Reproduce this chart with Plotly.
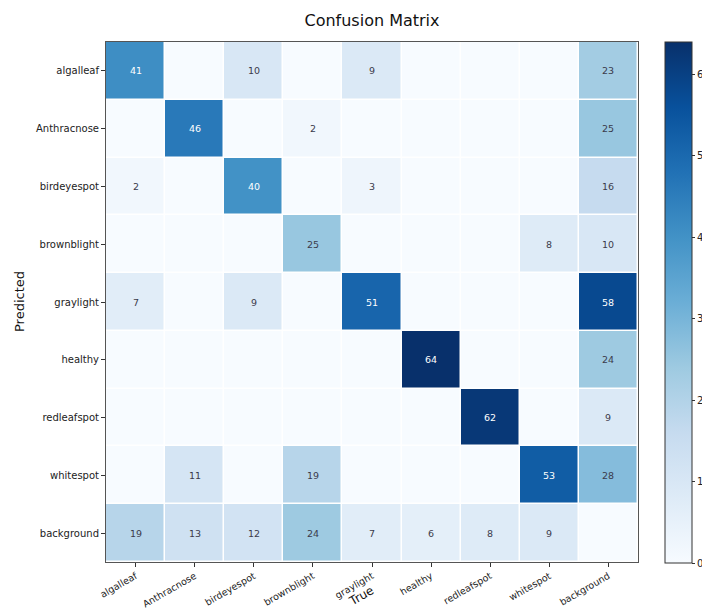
import plotly.graph_objects as go

classes = ["algalleaf", "Anthracnose", "birdeyespot", "brownblight", "graylight",
           "healthy", "redleafspot", "whitespot", "background"]

# rows = Predicted, columns = True
row_algalleaf = [41, 0, 10, 0, 9, 0, 0, 0, 23]
row_anthracnose = [0, 46, 0, 2, 0, 0, 0, 0, 25]
row_birdeyespot = [2, 0, 40, 0, 3, 0, 0, 0, 16]
row_brownblight = [0, 0, 0, 25, 0, 0, 0, 8, 10]
row_graylight = [7, 0, 9, 0, 51, 0, 0, 0, 58]
row_healthy = [0, 0, 0, 0, 0, 64, 0, 0, 24]
row_redleafspot = [0, 0, 0, 0, 0, 0, 62, 0, 9]
row_whitespot = [0, 11, 0, 19, 0, 0, 0, 53, 28]
row_background = [19, 13, 12, 24, 7, 6, 8, 9, 0]

z = [row_algalleaf, row_anthracnose, row_birdeyespot, row_brownblight, row_graylight,
     row_healthy, row_redleafspot, row_whitespot, row_background]

colorbar_ticks = [0, 10, 20, 30, 40, 50, 60]

blues = ['rgb(247,251,255)', 'rgb(222,235,247)', 'rgb(198,219,239)', 'rgb(158,202,225)',
         'rgb(107,174,214)', 'rgb(66,146,198)', 'rgb(33,113,181)', 'rgb(8,81,156)', 'rgb(8,48,107)']
cscale = [[i / (len(blues) - 1), c] for i, c in enumerate(blues)]

FONT = "DejaVu Sans"
OFF = 8  # page body offset
W, H = 710, 611
L = 106 - OFF
T = 42 - OFF
R = W - (638 - OFF)
B = H - (562 - OFF)
pw = W - L - R
ph = H - T - B

fig = go.Figure()
fig.add_trace(go.Heatmap(
    z=z, x=classes, y=classes, colorscale=cscale, zmin=0, zmax=64,
    xgap=1.5, ygap=1.5, hoverinfo="skip",
    colorbar=dict(
        thickness=27, lenmode="pixels", len=521, y=1, yanchor="top",
        x=(665 - OFF - L) / pw, xanchor="left", xpad=0, ypad=0,
        outlinewidth=1, outlinecolor="#333",
        tickvals=colorbar_ticks, ticks="outside", ticklen=3, tickcolor="#333",
        tickfont=dict(family=FONT, size=10, color="#222"),
    ),
))

annotations = []
for i, row in enumerate(z):
    for j, v in enumerate(row):
        if v > 0:
            annotations.append(dict(
                x=classes[j], y=classes[i], text=str(v), showarrow=False,
                font=dict(family=FONT, size=9.5, color="white" if v > 35 else "#3b3b4b"),
            ))

annotations.append(dict(
    xref="paper", yref="paper", x=(361 - OFF - L) / pw, y=-(596 - OFF - T - ph) / ph,
    yanchor="middle", xanchor="center",
    text="True", showarrow=False, textangle=-30,
    font=dict(family=FONT, size=12, color="#111"),
))
annotations.append(dict(
    xref="paper", yref="paper", x=-(L - (19 - OFF)) / pw, y=0.5,
    yanchor="middle", xanchor="center",
    text="Predicted", showarrow=False, textangle=-90,
    font=dict(family=FONT, size=13, color="#111"),
))

fig.update_layout(
    width=W, height=H,
    margin=dict(l=L, r=R, t=T, b=B, autoexpand=False),
    paper_bgcolor="white", plot_bgcolor="white",
    title=dict(text="Confusion Matrix", x=(L + pw / 2) / W, xanchor="center",
               y=1 - (20 - OFF) / H, yanchor="middle",
               font=dict(family=FONT, size=16, color="#111")),
    annotations=annotations,
    font=dict(family=FONT),
)
fig.update_xaxes(
    tickangle=-30, tickfont=dict(family=FONT, size=9.5, color="#222"),
    ticks="outside", ticklen=4, tickcolor="#333", automargin=False,
    showline=True, linecolor="#555", linewidth=1, mirror=True,
    showgrid=False, zeroline=False,
)
fig.update_yaxes(
    autorange="reversed", tickfont=dict(family=FONT, size=10, color="#222"),
    ticks="outside", ticklen=4, tickcolor="#333", automargin=False,
    showline=True, linecolor="#555", linewidth=1, mirror=True,
    showgrid=False, zeroline=False,
)

fig.write_html("out.html")
